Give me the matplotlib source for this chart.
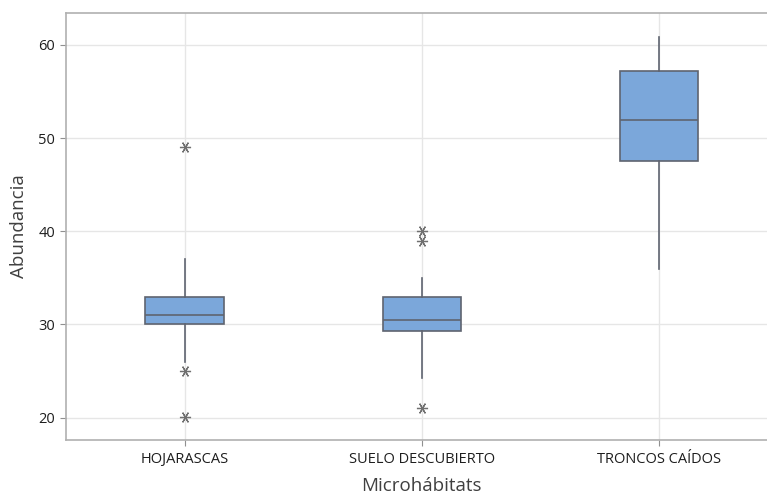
import numpy as np
import matplotlib.pyplot as plt

# Data
categories = ["HOJARASCAS", "SUELO DESCUBIERTO", "TRONCOS CAÍDOS"]
q1 = [30.0, 29.25, 47.5]
medians = [31.0, 30.5, 51.9]
q3 = [33.0, 33.0, 57.15]
whisker_low = [26.0, 24.2, 36.0]
whisker_high = [37.0, 35.0, 60.8]
outliers = [[49.0, 25.0, 20.1], [40.0, 39.0, 21.0], []]

plt.rcParams['font.family'] = ['Open Sans', 'DejaVu Sans']

stats = []
for i in range(len(categories)):
    stats.append({
        "label": categories[i],
        "q1": q1[i], "med": medians[i], "q3": q3[i],
        "whislo": whisker_low[i], "whishi": whisker_high[i],
        "fliers": outliers[i],
    })

fig = plt.figure(figsize=(7.67, 4.97), dpi=100)
ax = fig.add_axes([0.0854, 0.1147, 0.9283, 0.8592])

edge = "#5f6470"
ax.bxp(stats, positions=[1, 2, 3], widths=0.333, patch_artist=True,
       showcaps=False,
       boxprops=dict(facecolor="#7ba7da", edgecolor=edge, linewidth=1.2),
       medianprops=dict(color=edge, linewidth=1.2),
       whiskerprops=dict(color=edge, linewidth=1.2),
       flierprops=dict(marker=(6, 2, 90), markersize=8, markeredgecolor="#707070",
                       markerfacecolor="#707070", markeredgewidth=0.9))

ax.set_xlim(0.496, 3.5)
ax.set_ylim(17.6, 63.43)
ax.set_yticks([20, 30, 40, 50, 60])

ax.grid(True, color="#e6e6e6", linewidth=1.0)
ax.set_axisbelow(True)
for s in ax.spines.values():
    s.set_color("#b0b0b0")
    s.set_linewidth(1.2)
ax.spines["right"].set_visible(False)

ax.tick_params(axis="both", colors="#909090", labelcolor="#1e1e1e", length=4, labelsize=10.5)
ax.tick_params(axis="x", pad=5)

ax.set_xlabel("Microhábitats", fontsize=13.5, color="#404040", labelpad=7)
ax.set_ylabel("Abundancia", fontsize=13.5, color="#404040", labelpad=7)

fig.savefig("out.png", dpi=100)
